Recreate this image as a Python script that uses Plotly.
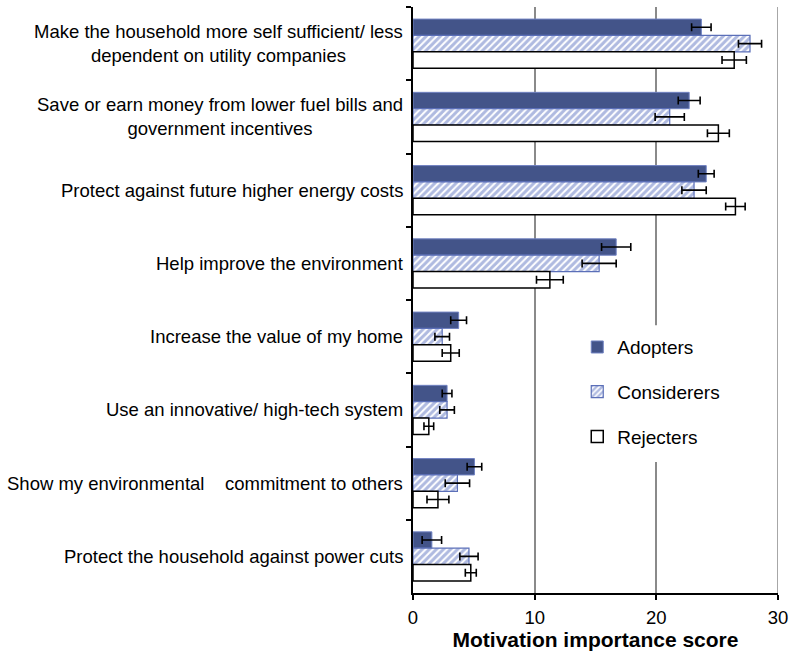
import plotly.graph_objects as go

# Motivations, listed top to bottom
motivations = [
    "Make the household more self sufficient/ less<br>dependent on utility companies",
    "Save or earn money from lower fuel bills and<br>government incentives",
    "Protect against future higher energy costs",
    "Help improve the environment",
    "Increase the value of my home",
    "Use an innovative/ high-tech system",
    "Show my environmental\u00a0\u00a0\u00a0 commitment to others",
    "Protect the household against power cuts",
]

groups = ["Adopters", "Considerers", "Rejecters"]

adopters = [23.7, 22.7, 24.1, 16.7, 3.75, 2.8, 5.05, 1.55]
adopters_err = [0.8, 0.9, 0.65, 1.2, 0.65, 0.4, 0.6, 0.8]

considerers = [27.7, 21.1, 23.1, 15.3, 2.4, 2.8, 3.65, 4.6]
considerers_err = [0.95, 1.2, 1.0, 1.4, 0.6, 0.6, 1.0, 0.75]

rejecters = [26.4, 25.1, 26.5, 11.25, 3.1, 1.3, 2.05, 4.75]
rejecters_err = [1.0, 0.9, 0.8, 1.1, 0.7, 0.4, 0.9, 0.45]

x_ticks = [0, 10, 20, 30]

FONT = "Liberation Sans, Arial, sans-serif"
GRID = "#8a8a8a"

def err(vals):
    return dict(type="data", array=vals, visible=True, color="black",
                thickness=1.6, width=4)

fig = go.Figure()

fig.add_trace(go.Bar(
    name=groups[0], y=motivations, x=adopters, orientation="h",
    marker=dict(color="#435489", line=dict(color="#7082c2", width=1)),
    error_x=err(adopters_err), legendgroup="a",
))
fig.add_trace(go.Bar(
    name=groups[1], y=motivations, x=considerers, orientation="h",
    marker=dict(color="white",
                pattern=dict(shape="/", fgcolor="#5f75c2", bgcolor="white",
                             size=5, solidity=0.6),
                line=dict(color="#5b6fb8", width=1.2)),
    error_x=err(considerers_err), legendgroup="b",
))
fig.add_trace(go.Bar(
    name=groups[2], y=motivations, x=rejecters, orientation="h",
    marker=dict(color="white", line=dict(color="black", width=1.5)),
    error_x=err(rejecters_err), legendgroup="c",
))

# Category labels, centred line by line
for m in motivations:
    fig.add_annotation(
        x=-0.022, xref="paper", y=m, yref="y",
        text=m, showarrow=False, xanchor="right", yanchor="middle",
        align="center", font=dict(family=FONT, size=18.5, color="black"),
    )

# Gridline on the right edge of the plot area
fig.add_shape(type="line", xref="x", yref="paper",
              x0=x_ticks[-1], x1=x_ticks[-1], y0=0, y1=1,
              line=dict(color=GRID, width=1.5), layer="below")

# White panel behind the legend, hiding the gridline there
fig.add_shape(type="rect", xref="paper", yref="paper",
              x0=0.485, x1=0.978, y0=0.2235, y1=0.457,
              fillcolor="white", line=dict(width=0), layer="above")

fig.update_layout(
    width=790, height=655,
    margin=dict(l=413, r=12, t=7, b=62, autoexpand=False),
    paper_bgcolor="white", plot_bgcolor="white",
    barmode="group", bargap=0.33, bargroupgap=0,
    font=dict(family=FONT, size=18, color="black"),
    showlegend=True,
    legend=dict(x=0.45, y=0.452, xanchor="left", yanchor="top",
                bgcolor="rgba(0,0,0,0)", font=dict(size=19),
                tracegroupgap=17, traceorder="grouped"),
    xaxis=dict(
        range=[0, 30], tickvals=x_ticks, ticktext=[str(t) for t in x_ticks],
        showgrid=True, gridcolor=GRID, gridwidth=1.5,
        zeroline=False, showline=True, linecolor="black", linewidth=2,
        ticks="outside", ticklen=5, tickwidth=2, tickcolor="black",
        tickfont=dict(size=18.5), ticklabelstandoff=2, automargin=False,
        title=dict(text="<b>Motivation importance score</b>",
                   font=dict(size=21), standoff=1),
    ),
    yaxis=dict(
        autorange="reversed", showticklabels=False, showgrid=False,
        showline=True, linecolor="black", linewidth=2,
        ticks="outside", ticklen=5, tickwidth=2, tickcolor="black",
        tickson="boundaries", automargin=False,
    ),
)

fig.write_html("out.html")
